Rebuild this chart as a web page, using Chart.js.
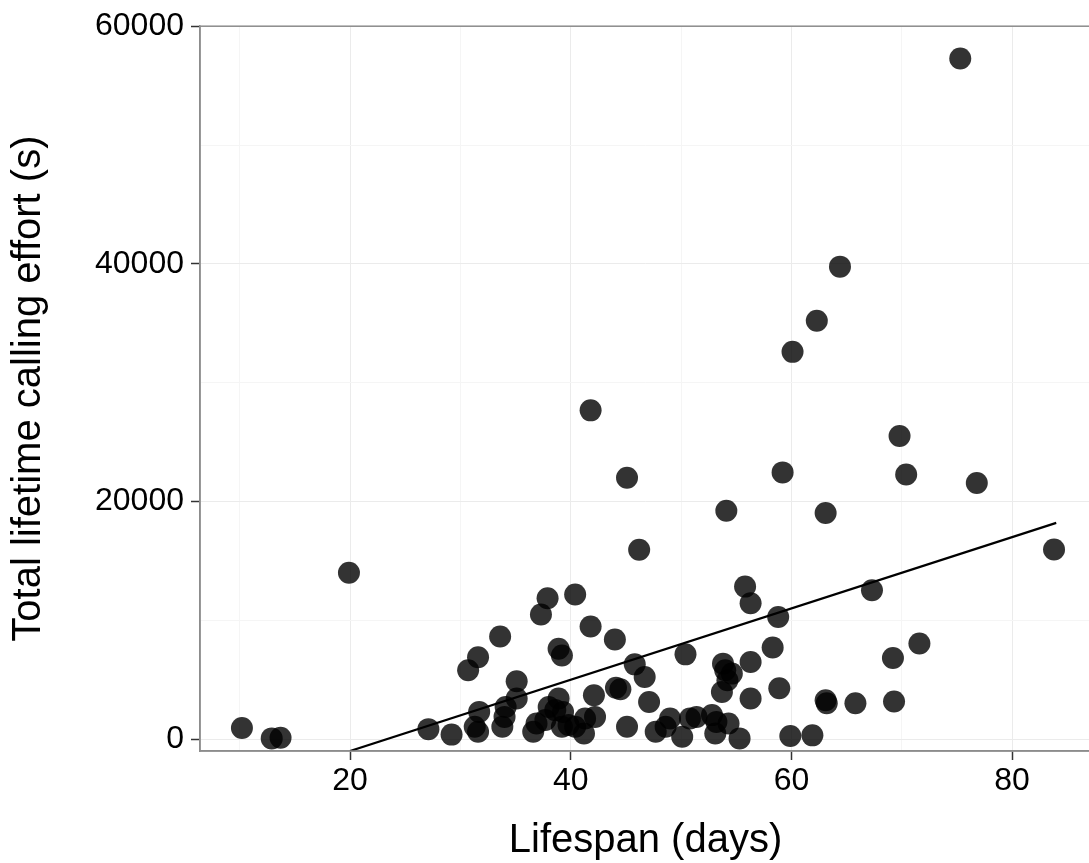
<!DOCTYPE html>
<html>
<head>
<meta charset="utf-8">
<script src="https://cdn.jsdelivr.net/npm/chart.js@4/dist/chart.umd.min.js"></script>
<style>
  html, body { margin: 0; padding: 0; background: #fff; overflow: hidden; }
  canvas { display: block; }
</style>
</head>
<body>
<!-- a little wider than the window: the point overflow padding on the right falls outside the view -->
<canvas id="lifespanChart" width="1102" height="863"></canvas>
<script>
// Lifespan (days) vs total lifetime calling effort (s), one value per individual
const lifespanDays = [
    10.2, 12.9, 13.7, 19.9, 27.1, 29.2, 30.7, 31.6, 33.6, 31.7,
    31.3, 31.6, 35.1, 35.1, 34.1, 34.0, 33.8, 37.9, 37.3, 40.4,
    41.8, 44.0, 38.9, 39.2, 45.8, 46.7, 44.1, 44.5, 47.1, 42.1,
    38.9, 38.0, 38.6, 39.3, 36.9, 36.6, 37.7, 39.2, 39.8, 40.4,
    41.3, 42.2, 41.2, 45.1, 47.7, 48.6, 49.0, 50.1, 50.8, 51.4,
    52.8, 53.2, 53.1, 54.3, 55.3, 53.8, 54.0, 54.6, 54.2, 53.7,
    56.3, 56.3, 58.3, 50.4, 55.8, 56.3, 58.8, 58.9, 59.9, 61.9,
    63.1, 63.2, 65.8, 69.3, 69.2, 71.6, 67.3, 83.8, 63.1, 76.8,
    70.4, 59.2, 69.8, 60.1, 62.3, 64.4, 75.3, 41.8, 45.1, 54.1,
    46.2
];
const callingEffort = [
    950, 80, 130, 14020, 860, 400, 5810, 6900, 8660, 2310,
    1060, 640, 4890, 3440, 2730, 1890, 1060, 11870, 10500, 12180,
    9490, 8400, 7630, 7060, 6310, 5250, 4340, 4220, 3150, 3710,
    3440, 2730, 2460, 2310, 1340, 640, 1620, 1060, 1200, 1060,
    1760, 1890, 500, 1060, 640, 1060, 1760, 220, 1760, 1890,
    2040, 1470, 500, 1340, 80, 6370, 5810, 5530, 4970, 3990,
    6500, 3440, 7720, 7150, 12850, 11450, 10290, 4300, 280, 335,
    3290, 3040, 3040, 3180, 6840, 8070, 12540, 15970, 19050, 21560,
    22290, 22460, 25530, 32600, 35220, 39770, 57290, 27680, 22010, 19240,
    15950
];

// fitted linear trend, read at its two visible ends
const fitX = [20, 84];
const fitY = [-980, 18210];

// axis ticks (minor ones get a grid line only)
const xTicks = [10, 20, 30, 40, 50, 60, 70, 80];
const xLabelled = [20, 40, 60, 80];
const yTicks = [0, 10000, 20000, 30000, 40000, 50000, 60000];
const yLabelled = [0, 20000, 40000, 60000];

const points = lifespanDays.map((x, i) => ({ x: x, y: callingEffort[i] }));
const fitLine = fitX.map((x, i) => ({ x: x, y: fitY[i] }));

const tickFont = { family: 'Liberation Sans, Arial, sans-serif', size: 32 };
const titleFont = { family: 'Liberation Sans, Arial, sans-serif', size: 40, lineHeight: 1 };

function gridColour(labelled) {
    return ctx => labelled.includes(ctx.tick.value) ? '#ebebeb' : '#f5f5f5';
}
function tickColour(labelled) {
    return ctx => labelled.includes(ctx.tick.value) ? '#333333' : 'rgba(0,0,0,0)';
}

// panel border on top and right as in the original
const panelBorder = {
    id: 'panelBorder',
    afterDatasetsDraw(chart) {
        const { ctx, chartArea } = chart;
        ctx.save();
        ctx.strokeStyle = '#8c8c8c';
        ctx.lineWidth = 1.5;
        ctx.strokeRect(chartArea.left, chartArea.top, chartArea.right - chartArea.left, chartArea.bottom - chartArea.top);
        ctx.restore();
    }
};

new Chart(document.getElementById('lifespanChart').getContext('2d'), {
    type: 'scatter',
    data: {
        datasets: [
            {
                label: 'Linear fit',
                data: fitLine,
                showLine: true,
                borderColor: '#000000',
                borderWidth: 2.2,
                pointRadius: 0,
                fill: false
            },
            {
                label: 'Individuals',
                data: points,
                pointRadius: 11,
                pointHoverRadius: 11,
                pointBackgroundColor: 'rgba(0,0,0,0.8)',
                pointBorderWidth: 0,
                borderWidth: 0
            }
        ]
    },
    options: {
        responsive: false,
        animation: false,
        layout: { padding: { top: 23, right: 0, bottom: 0, left: 0 } },
        plugins: {
            legend: { display: false },
            tooltip: { enabled: false }
        },
        scales: {
            x: {
                type: 'linear',
                min: 6.4,
                max: 87.15,
                afterBuildTicks: scale => { scale.ticks = xTicks.map(v => ({ value: v })); },
                afterFit: scale => {
                    scale.height = 112;
                    scale.paddingLeft = 0;
                    scale.paddingRight = 0;
                },
                grid: {
                    color: gridColour(xLabelled),
                    tickColor: tickColour(xLabelled),
                    tickLength: 9,
                    tickWidth: 1.5
                },
                border: { display: true, color: '#8c8c8c', width: 1.5 },
                ticks: {
                    font: tickFont,
                    color: '#000000',
                    padding: 2,
                    maxRotation: 0,
                    callback: v => xLabelled.includes(v) ? String(v) : ''
                },
                title: {
                    display: true,
                    text: 'Lifespan (days)',
                    font: titleFont,
                    color: '#000000',
                    padding: { top: 0, bottom: 2 }
                }
            },
            y: {
                type: 'linear',
                min: -980,
                max: 60000,
                afterBuildTicks: scale => { scale.ticks = yTicks.map(v => ({ value: v })); },
                afterFit: scale => { scale.width = 200; },
                grid: {
                    color: gridColour(yLabelled),
                    tickColor: tickColour(yLabelled),
                    tickLength: 9,
                    tickWidth: 1.5
                },
                border: { display: true, color: '#8c8c8c', width: 1.5 },
                ticks: {
                    font: tickFont,
                    color: '#000000',
                    padding: 7,
                    callback: v => yLabelled.includes(v) ? String(v) : ''
                },
                title: {
                    display: true,
                    text: 'Total lifetime calling effort (s)',
                    font: titleFont,
                    color: '#000000',
                    padding: { top: 9, bottom: 0 }
                }
            }
        }
    },
    plugins: [panelBorder]
});
</script>
</body>
</html>
